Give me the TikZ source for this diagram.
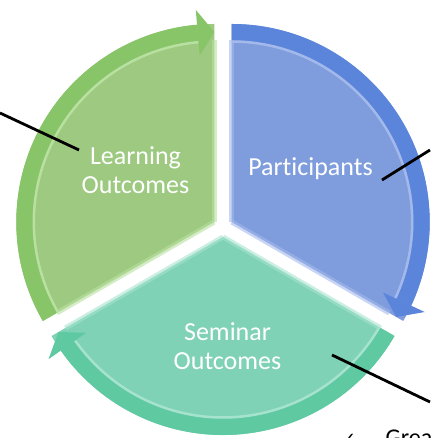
\documentclass[tikz,border=0pt]{standalone}
\usepackage{fontspec}
\setmainfont{Carlito}[Ligatures={NoCommon}]
\newfontfamily\checkfont{DejaVu Sans}
\usetikzlibrary{positioning}

\definecolor{greenfill}{HTML}{9DCA80}
\definecolor{greenrim}{HTML}{88C468}
\definecolor{greenlight}{HTML}{B8E0A0}
\definecolor{bluefill}{HTML}{7F9DDC}
\definecolor{bluerim}{HTML}{5B84DB}
\definecolor{bluelight}{HTML}{A3B9EC}
\definecolor{tealfill}{HTML}{7FD2B6}
\definecolor{tealrim}{HTML}{5FC9A2}
\definecolor{teallight}{HTML}{A6E3CE}

% one wedge of the cycle with its arrow along the rim
% #1 centre, #2 start angle, #3 fill, #4 rim, #5 highlight
\newcommand\cyclepart[5]{%
  \begin{scope}[shift={#1}]
    \pgfmathsetmacro\tipang{#2-120}
    \pgfmathsetmacro\headang{#2-115}
    \fill[#3] (0,0) -- (#2:198) arc[start angle=#2, end angle=\tipang, radius=198] -- cycle;
    \draw[#5, line width=5pt, opacity=.6] (0,0) -- (#2:182);
    \draw[#5, line width=5pt, opacity=.6] (0,0) -- (\tipang:182);
    \draw[#5, line width=2.5pt] (\headang:180.5) arc[start angle=\headang, end angle=#2, radius=180.5];
    \fill[#4] (#2:198) arc[start angle=#2, end angle=\headang, radius=198]
      -- (\headang:182) arc[start angle=\headang, end angle=#2, radius=182] -- cycle;
    \fill[#4] (\headang:213) -- (\tipang:190) -- (\headang:167) -- cycle;
  \end{scope}}

\begin{document}
\begin{tikzpicture}[x=1pt, y=1pt,
  label/.style = {text=white, align=center, font=\fontsize{26}{29}\selectfont},
  callout/.style = {draw=black, line width=2.8pt}]
\useasboundingbox (0,0) rectangle (430,438);

\cyclepart{(214.3,216)}{210}{greenfill}{greenrim}{greenlight}
\cyclepart{(231.7,216)}{90}{bluefill}{bluerim}{bluelight}
\cyclepart{(223,201)}{330}{tealfill}{tealrim}{teallight}

\node[label] (lo) at (135.5,268) {Learning\\Outcomes};
\node[label] (pa) at (310.5,269) {Participants};
\node[label] (so) at (227.5,92) {Seminar\\Outcomes};

\coordinate (lo-in) at (79,288);
\coordinate (lo-out) at (0,325);
\coordinate (pa-in) at (382,258);
\coordinate (pa-out) at (430,288);
\coordinate (so-in) at (332,83);
\coordinate (so-out) at (430,36);

\draw[callout] (lo-out) -- (lo-in);
\draw[callout] (pa-in) -- (pa-out);
\draw[callout] (so-in) -- (so-out);

\node[anchor=base west, inner sep=0, font=\fontsize{18}{20}\selectfont] (ck) at (341,-8) {\checkfont ✓};
\node[inner sep=0, font=\fontsize{24}{26}\selectfont, base right=29pt of ck] (gr) {Grea};

\end{tikzpicture}
\end{document}
